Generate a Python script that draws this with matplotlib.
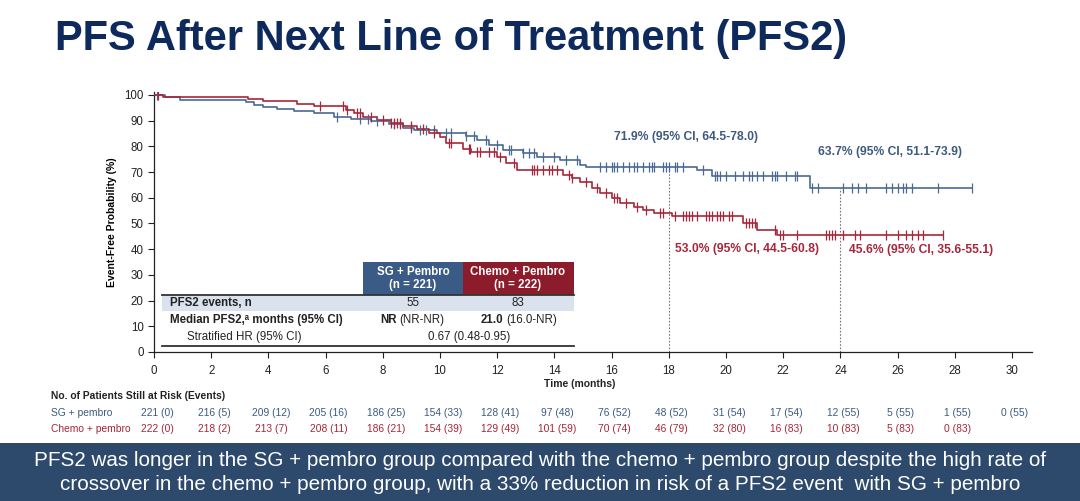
import numpy as np
import matplotlib.pyplot as plt
from matplotlib.patches import Rectangle

plt.rcParams['font.family'] = ['Liberation Sans', 'DejaVu Sans']

# ---- data ----
sg_t = [0, 0.4, 0.9, 3.2, 3.5, 3.8, 4.3, 4.9, 5.6, 6.3, 6.9, 7.6, 8.2, 8.7, 9.1,
        9.9, 10.9, 11.3, 11.7, 12.2, 12.9, 13.4, 14.2, 14.9, 15.1, 19.0, 19.5, 22.95, 28.6]
sg_s = [100, 99.3, 98.2, 97.3, 96.2, 95.2, 94.5, 93.8, 92.8, 91.6, 90.6, 89.8, 88.6, 87.2, 86.2,
        85.2, 84.0, 82.5, 80.5, 78.6, 77.4, 76.0, 74.7, 72.8, 71.9, 70.8, 68.3, 63.7, 63.7]
sg_cens = [0.1, 6.4, 7.2, 7.5, 7.8, 8.4, 8.6, 9.0, 9.3, 9.5, 9.8, 10.2, 10.4, 10.9, 11.2,
           11.6, 12.0, 12.4, 12.5, 12.9, 13.1, 13.3, 13.6, 14.0, 14.4, 14.8,
           15.6, 15.8, 16.0, 16.1, 16.2, 16.4, 16.6, 16.8, 16.9, 17.1, 17.3, 17.4, 17.5,
           17.8, 17.9, 18.0, 18.2, 18.3, 18.5, 19.2, 19.6, 19.7, 19.8, 20.0, 20.3, 20.6,
           20.8, 20.9, 21.1, 21.3, 21.6, 21.7, 21.8, 22.1, 22.4, 22.5, 23.0, 23.2, 24.1,
           24.4, 24.6, 24.9, 25.6, 25.8, 26.0, 26.2, 26.3, 26.5, 27.4, 28.6]

ch_t = [0, 0.3, 3.3, 3.8, 5.0, 5.6, 6.7, 7.0, 7.3, 7.8, 8.3, 8.7, 9.2, 9.6, 10.0, 10.2,
        10.8, 11.1, 12.0, 12.3, 12.7, 14.3, 14.6, 14.9, 15.3, 15.6, 16.0, 16.3, 16.8,
        17.1, 17.5, 18.1, 20.6, 21.1, 21.8, 27.6]
ch_s = [100, 99.4, 98.6, 97.6, 96.6, 95.6, 94.2, 92.8, 91.6, 90.4, 89.2, 87.8, 86.6, 85.2, 83.6, 81.3,
        79.0, 77.8, 75.9, 73.5, 70.8, 68.9, 67.7, 66.1, 63.8, 61.9, 59.9, 58.0, 56.4,
        55.2, 54.1, 53.0, 50.3, 47.6, 45.6, 45.6]
ch_cens = [0.15, 5.8, 6.6, 6.75, 7.1, 7.2, 7.6, 8.0, 8.3, 8.4, 8.5, 8.6, 9.0, 9.4, 9.8,
           10.3, 10.4, 11.0, 11.05, 11.3, 11.4, 11.7, 11.9, 12.1, 12.6, 13.2, 13.3, 13.4,
           13.6, 13.8, 13.9, 14.1, 14.5, 14.6, 15.1, 15.5, 15.8, 16.1, 16.2, 16.5, 16.9,
           17.2, 17.7, 17.8, 18.2, 18.5, 18.6, 18.7, 18.8, 19.0, 19.3, 19.4, 19.5, 19.7,
           19.8, 19.9, 20.1, 20.2, 20.7, 20.8, 20.9, 21.0, 21.7, 21.9, 22.0, 22.5, 23.5,
           23.6, 23.7, 23.8, 24.1, 24.5, 24.7, 25.6, 26.0, 26.3, 26.5, 26.7, 26.9, 27.6]

risk_times = list(range(0, 31, 2))
sg_risk = ['221 (0)', '216 (5)', '209 (12)', '205 (16)', '186 (25)', '154 (33)', '128 (41)',
           '97 (48)', '76 (52)', '48 (52)', '31 (54)', '17 (54)', '12 (55)', '5 (55)',
           '1 (55)', '0 (55)']
ch_risk = ['222 (0)', '218 (2)', '213 (7)', '208 (11)', '186 (21)', '154 (39)', '129 (49)',
           '101 (59)', '70 (74)', '46 (79)', '32 (80)', '16 (83)', '10 (83)', '5 (83)',
           '0 (83)']

mark_times = [18, 24]
sg_marks = [71.9, 63.7]
ch_marks = [53.0, 45.6]

BLUE = '#4a6a94'
RED = '#a8263a'
NAVY = '#0e2a5c'
TXT = '#222222'


def px(x, y):
    return x / 1080, 1 - y / 501


def step_value(t, s, x):
    i = np.searchsorted(t, x, side='right') - 1
    return np.asarray(s)[i]


fig = plt.figure(figsize=(10.8, 5.01), dpi=100)
fig.patch.set_facecolor('white')

ax = fig.add_axes([154 / 1080, 1 - 352 / 501, (1032 - 154) / 1080, (352 - 92.4) / 501])
ax.set_xlim(0, 30.7)
ax.set_ylim(0, 101)
for sp in ['top', 'right']:
    ax.spines[sp].set_visible(False)
for sp in ['left', 'bottom']:
    ax.spines[sp].set_linewidth(0.9)
    ax.spines[sp].set_color(TXT)
ax.set_xticks(risk_times)
ax.set_yticks(range(0, 101, 10))
ax.tick_params(axis='both', direction='out', length=4, width=0.8, labelsize=8.3,
               colors=TXT)
ax.tick_params(axis='x', pad=5)
ax.set_ylabel('Event-Free Probability (%)', fontsize=7.5, fontweight='bold', labelpad=5)

# dotted landmark lines
for t, v in zip(mark_times, sg_marks):
    ax.plot([t, t], [0, v], color='#777777', lw=0.8, ls=(0, (1.5, 1.5)), zorder=1)

# KM curves
ax.step(sg_t, sg_s, where='post', color=BLUE, lw=1.2, zorder=3)
ax.step(ch_t, ch_s, where='post', color=RED, lw=1.2, zorder=3)
ax.plot(sg_cens, step_value(sg_t, sg_s, sg_cens), ls='none', marker='|', ms=7, mew=0.9,
        color=BLUE, zorder=4)
ax.plot(ch_cens, step_value(ch_t, ch_s, ch_cens), ls='none', marker='|', ms=7, mew=0.9,
        color=RED, zorder=4)

# landmark annotations
ann = dict(fontsize=8.7, fontweight='bold', va='center')
ax.text(16.1, 83.7, '71.9% (95% CI, 64.5-78.0)', color='#3d5a80', **ann)
ax.text(23.2, 77.8, '63.7% (95% CI, 51.1-73.9)', color='#3d5a80', **ann)
ax.text(18.2, 40.1, '53.0% (95% CI, 44.5-60.8)', color=RED, **ann)
ax.text(24.3, 39.7, '45.6% (95% CI, 35.6-55.1)', color=RED, **ann)

fig.text(*px(580, 384), 'Time (months)', fontsize=7.5, fontweight='bold', ha='center',
         va='center', color=TXT)

# summary table inside the plot
fig.patches.append(Rectangle(px(363, 295), 100 / 1080, 33 / 501, transform=fig.transFigure,
                             facecolor='#3b5b87', edgecolor='none'))
fig.patches.append(Rectangle(px(463, 295), 111 / 1080, 33 / 501, transform=fig.transFigure,
                             facecolor='#8c1b2b', edgecolor='none'))
fig.patches.append(Rectangle(px(162, 311), 412 / 1080, 16 / 501, transform=fig.transFigure,
                             facecolor='#dae2ed', edgecolor='none'))
for y in [295, 346]:
    fig.lines.append(plt.Line2D([162 / 1080, 574 / 1080], [1 - y / 501, 1 - y / 501],
                                transform=fig.transFigure, color='#333333', lw=1.3))

tb = 8.3
fig.text(*px(413, 278.5), 'SG + Pembro\n(n = 221)', color='white', fontsize=tb,
         fontweight='bold', ha='center', va='center', linespacing=1.1)
fig.text(*px(518, 278.5), 'Chemo + Pembro\n(n = 222)', color='white', fontsize=tb,
         fontweight='bold', ha='center', va='center', linespacing=1.1)
fig.text(*px(170, 303), 'PFS2 events, n', fontsize=tb, fontweight='bold', va='center', color=TXT)
fig.text(*px(413, 303), '55', fontsize=tb, ha='center', va='center', color=TXT)
fig.text(*px(518, 303), '83', fontsize=tb, ha='center', va='center', color=TXT)
fig.text(*px(170, 320), 'Median PFS2,ᵃ months (95% CI)', fontsize=tb, fontweight='bold',
         va='center', color=TXT)
fig.text(*px(380, 320), 'NR', fontsize=tb, fontweight='bold', va='center', color=TXT)
fig.text(*px(399, 320), '(NR-NR)', fontsize=tb, va='center', color=TXT)
fig.text(*px(481, 320), '21.0', fontsize=tb, fontweight='bold', va='center', color=TXT)
fig.text(*px(506, 320), '(16.0-NR)', fontsize=tb, va='center', color=TXT)
fig.text(*px(187, 337), 'Stratified HR (95% CI)', fontsize=tb, va='center', color=TXT)
fig.text(*px(469, 337), '0.67 (0.48-0.95)', fontsize=tb, ha='center', va='center', color=TXT)

# at-risk table
rk = 7.4
fig.text(*px(51, 396), 'No. of Patients Still at Risk (Events)', fontsize=rk,
         fontweight='bold', va='center', color=TXT)
fig.text(*px(51, 412.5), 'SG + pembro', fontsize=rk, va='center', color='#3d5a80')
fig.text(*px(51, 429), 'Chemo + pembro', fontsize=rk, va='center', color=RED)
to_fig = ax.transData + fig.transFigure.inverted()
for t, lab in zip(risk_times, sg_risk):
    fx = to_fig.transform((t, 0))[0] + 3 / 1080
    fig.text(fx, 1 - 412.5 / 501, lab, fontsize=rk, ha='center', va='center', color='#3d5a80')
for t, lab in zip(risk_times, ch_risk):
    fx = to_fig.transform((t, 0))[0] + 3 / 1080
    fig.text(fx, 1 - 429 / 501, lab, fontsize=rk, ha='center', va='center', color=RED)

# title
fig.text(*px(55, 49.5), 'PFS After Next Line of Treatment (PFS2)', color=NAVY, fontsize=30,
         fontweight='bold', va='baseline')

# bottom banner
fig.patches.append(Rectangle((0, 0), 1, 58 / 501, transform=fig.transFigure,
                             facecolor='#2d4a6c', edgecolor='none'))
fig.text(0.5, 1 - 461 / 501,
         'PFS2 was longer in the SG + pembro group compared with the chemo + pembro group despite the high rate of',
         color='white', fontsize=14.9, ha='center', va='center')
fig.text(0.5, 1 - 485 / 501,
         'crossover in the chemo + pembro group, with a 33% reduction in risk of a PFS2 event  with SG + pembro',
         color='white', fontsize=14.9, ha='center', va='center')

fig.savefig('out.png', dpi=100)
